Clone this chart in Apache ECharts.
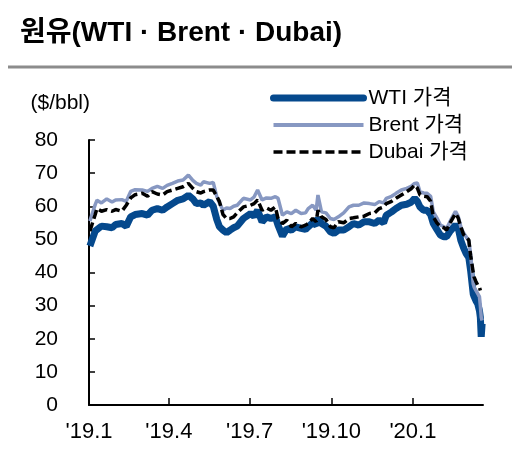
<!DOCTYPE html>
<html>
<head>
<meta charset="utf-8">
<script src="https://cdn.jsdelivr.net/npm/echarts@6/dist/echarts.min.js"></script>
<style>
    html, body { margin: 0; padding: 0; background: #fff; }
    #chart { width: 531px; height: 459px; }
</style>
</head>
<body>
<div id="chart"></div>
<script>
// 샘플 날짜 (대략 주 1~2회)
var dates = [
    '2019-01-02', '2019-01-08', '2019-01-10', '2019-01-15', '2019-01-21', '2019-01-27', '2019-01-31',
    '2019-02-07', '2019-02-12', '2019-02-17', '2019-02-22', '2019-03-02', '2019-03-08', '2019-03-13',
    '2019-03-19', '2019-03-25', '2019-03-30', '2019-04-05', '2019-04-11', '2019-04-17', '2019-04-23',
    '2019-04-28', '2019-05-02', '2019-05-07', '2019-05-10', '2019-05-17', '2019-05-21', '2019-05-25',
    '2019-05-28', '2019-06-01', '2019-06-05', '2019-06-09', '2019-06-13', '2019-06-17', '2019-06-24',
    '2019-07-02', '2019-07-06', '2019-07-10', '2019-07-15', '2019-07-20', '2019-07-25', '2019-07-30',
    '2019-08-02', '2019-08-07', '2019-08-12', '2019-08-17', '2019-08-22', '2019-08-28', '2019-09-02',
    '2019-09-05', '2019-09-10', '2019-09-14', '2019-09-16', '2019-09-20', '2019-09-25', '2019-09-30',
    '2019-10-04', '2019-10-09', '2019-10-15', '2019-10-21', '2019-10-26', '2019-11-01', '2019-11-07',
    '2019-11-13', '2019-11-19', '2019-11-24', '2019-11-29', '2019-12-02', '2019-12-08', '2019-12-13',
    '2019-12-19', '2019-12-25', '2019-12-30', '2020-01-03', '2020-01-06', '2020-01-09', '2020-01-13',
    '2020-01-17', '2020-01-21', '2020-01-24', '2020-01-28', '2020-02-01', '2020-02-05', '2020-02-08',
    '2020-02-12', '2020-02-18', '2020-02-21', '2020-02-24', '2020-02-27', '2020-03-01', '2020-03-04',
    '2020-03-06', '2020-03-09', '2020-03-10', '2020-03-12', '2020-03-14', '2020-03-16', '2020-03-17',
    '2020-03-18', '2020-03-19'
];
var wti = [
    48.0, 52.5, 52.5, 54.0, 53.8, 53.5, 54.5,
    54.8, 54.0, 56.8, 57.5, 57.8, 57.3, 58.8,
    59.3, 58.8, 59.8, 60.8, 61.8, 62.2, 63.3,
    62.2, 60.8, 61.0, 60.3, 61.4, 60.0, 56.0,
    53.8, 52.8, 52.0, 52.8, 53.5, 54.0, 56.3,
    57.8, 57.0, 58.8, 55.3, 56.8, 56.3, 56.8,
    54.3, 51.0, 53.3, 52.8, 53.8, 53.3, 53.0,
    53.8, 55.0, 54.3, 56.5, 54.8, 54.0, 52.3,
    51.8, 52.8, 52.8, 53.8, 54.8, 54.3, 55.3,
    55.3, 54.8, 55.8, 55.0, 57.3, 58.3, 59.3,
    60.3, 60.6, 61.2, 62.4, 61.5, 59.8, 58.8,
    58.8, 57.5, 54.8, 53.0, 51.3, 50.8, 50.8,
    52.5, 54.3, 53.5, 49.7, 47.5, 45.7, 44.5,
    40.7, 33.5, 32.7, 31.5, 30.6, 28.5, 26.5,
    20.6, 24.5
];
var brent = [
    55.5, 60.5, 61.8, 61.0, 62.2, 61.3, 61.9,
    62.0, 61.5, 64.5, 65.0, 64.9, 64.5, 65.4,
    66.0, 65.4, 66.3, 66.9, 67.6, 67.9, 69.4,
    67.8, 66.9, 66.4, 67.4, 66.9, 67.2, 62.9,
    61.0, 58.8, 59.5, 59.3, 60.0, 60.3, 62.4,
    61.9, 62.8, 64.9, 61.9, 62.5, 62.4, 62.9,
    62.4, 57.3, 58.3, 57.8, 58.8, 57.8, 58.0,
    59.3, 60.3, 58.8, 63.4, 58.3, 58.0, 56.3,
    56.0, 56.8, 58.0, 59.8, 60.3, 60.3, 61.0,
    60.8, 60.5, 61.4, 61.0, 62.4, 63.0, 63.9,
    64.9, 65.4, 66.0, 66.9, 67.0, 64.4, 64.0,
    63.9, 63.0, 58.3, 56.5, 54.3, 53.8, 53.3,
    55.5, 58.5, 57.0, 53.8, 52.0, 50.8, 49.5,
    45.7, 36.5, 35.6, 34.6, 34.6, 32.7, 30.0,
    26.5, 25.5
];
var dubai = [
    52.5, 57.5, 59.3, 58.5, 59.0, 58.5, 59.0,
    58.5, 60.3, 62.5, 63.5, 63.9, 63.0, 64.4,
    63.7, 63.4, 64.4, 64.9, 65.4, 65.9, 66.9,
    65.4, 64.4, 64.0, 64.4, 64.9, 64.9, 63.0,
    61.4, 57.5, 56.3, 56.3, 56.8, 58.0, 59.8,
    60.3, 60.8, 61.9, 58.8, 59.5, 58.8, 59.8,
    56.3, 54.8, 55.8, 53.8, 54.8, 53.8, 54.3,
    54.8, 56.3, 55.3, 58.8, 56.8, 56.0, 53.8,
    53.5, 55.3, 55.0, 56.3, 56.5, 56.8, 57.0,
    57.8, 58.0, 59.3, 59.8, 60.8, 61.5, 62.4,
    63.4, 64.4, 65.3, 66.4, 65.5, 63.4, 63.0,
    62.9, 61.5, 56.8, 55.0, 53.8, 53.5, 52.8,
    55.0, 57.8, 56.5, 53.8, 51.5, 50.8, 49.8,
    45.2, 40.0, 38.6, 37.3, 36.2, 35.5, 34.6,
    null, null
];
var seriesNames = ['WTI 가격', 'Brent 가격', 'Dubai 가격'];
var yTicks = [0, 80, 10]; // min, max, interval

// 축 카테고리: 2019-01-01 ~ 2020-03-20 일별
var axisDays = [];
var d = new Date(Date.UTC(2019, 0, 1));
var end = new Date(Date.UTC(2020, 2, 20));
while (d <= end) {
    axisDays.push(d.toISOString().slice(0, 10));
    d.setUTCDate(d.getUTCDate() + 1);
}

function isQuarter(v) {
    var m = v.slice(5, 7);
    return v.slice(8) === '01' && (m === '01' || m === '04' || m === '07' || m === '10');
}
function pair(arr) {
    return dates.map(function (dt, i) { return [dt, arr[i]]; });
}

var txtFont = '"Liberation Sans", "Noto Sans CJK KR", sans-serif';
var colors = ['#05498d', '#8798c2', '#000'];

var chart = echarts.init(document.getElementById('chart'));
var option = {
    animation: false,
    backgroundColor: '#fff',
    title: {
        text: '원유(WTI · Brent · Dubai)',
        left: 15,
        top: 14,
        textStyle: {
            fontFamily: txtFont,
            fontSize: 28,
            fontWeight: 'bold',
            color: '#000'
        }
    },
    graphic: [{
        type: 'line',
        shape: { x1: 8, y1: 67, x2: 512, y2: 67 },
        style: { stroke: '#8c8c8c', lineWidth: 3 }
    }],
    legend: {
        orient: 'vertical',
        left: 265,
        top: 82,
        itemWidth: 90,
        itemHeight: 14,
        itemGap: 5,
        itemStyle: { opacity: 0 },
        data: [
            { name: seriesNames[0], lineStyle: { width: 7, color: colors[0], cap: 'round' } },
            { name: seriesNames[1], lineStyle: { width: 4, color: colors[1] } },
            { name: seriesNames[2], lineStyle: { width: 3.5, color: colors[2], type: [9, 4] } }
        ],
        textStyle: { fontFamily: txtFont, fontSize: 21, color: '#000', lineHeight: 22 }
    },
    grid: { left: 89, right: 48, top: 140, bottom: 54 },
    xAxis: {
        type: 'category',
        boundaryGap: false,
        data: axisDays,
        axisLine: { lineStyle: { color: '#000', width: 2 } },
        axisTick: {
            inside: true, length: 7,
            lineStyle: { color: '#000', width: 1.5 },
            interval: function (i, v) { return isQuarter(v); }
        },
        axisLabel: {
            interval: function (i, v) { return isQuarter(v); },
            formatter: function (v) {
                return "'" + v.slice(2, 4) + '.' + parseInt(v.slice(5, 7), 10);
            },
            margin: 16,
            fontFamily: txtFont,
            fontSize: 22,
            color: '#000'
        },
        splitLine: { show: false }
    },
    yAxis: {
        type: 'value',
        min: yTicks[0],
        max: yTicks[1],
        interval: yTicks[2],
        name: '($/bbl)',
        nameLocation: 'end',
        nameGap: 26,
        nameTextStyle: { fontFamily: txtFont, fontSize: 21, color: '#000', align: 'right', padding: [0, -1, 0, 0] },
        axisLine: { show: true, lineStyle: { color: '#000', width: 2 } },
        axisTick: { show: true, inside: true, length: 6, lineStyle: { color: '#000', width: 1.5 } },
        axisLabel: { margin: 31, fontFamily: txtFont, fontSize: 21, color: '#000' },
        splitLine: { show: false }
    },
    series: [{
        name: seriesNames[0],
        type: 'line',
        data: pair(wti),
        showSymbol: false,
        symbol: 'none',
        lineStyle: { color: colors[0], width: 7 },
        itemStyle: { color: colors[0] }
    }, {
        name: seriesNames[1],
        type: 'line',
        data: pair(brent),
        showSymbol: false,
        symbol: 'none',
        lineStyle: { color: colors[1], width: 3.5 },
        itemStyle: { color: colors[1] }
    }, {
        name: seriesNames[2],
        type: 'line',
        data: pair(dubai),
        showSymbol: false,
        symbol: 'none',
        lineStyle: { color: colors[2], width: 3.5, type: [9, 4] },
        itemStyle: { color: colors[2] }
    }]
};
chart.setOption(option);
</script>
</body>
</html>
